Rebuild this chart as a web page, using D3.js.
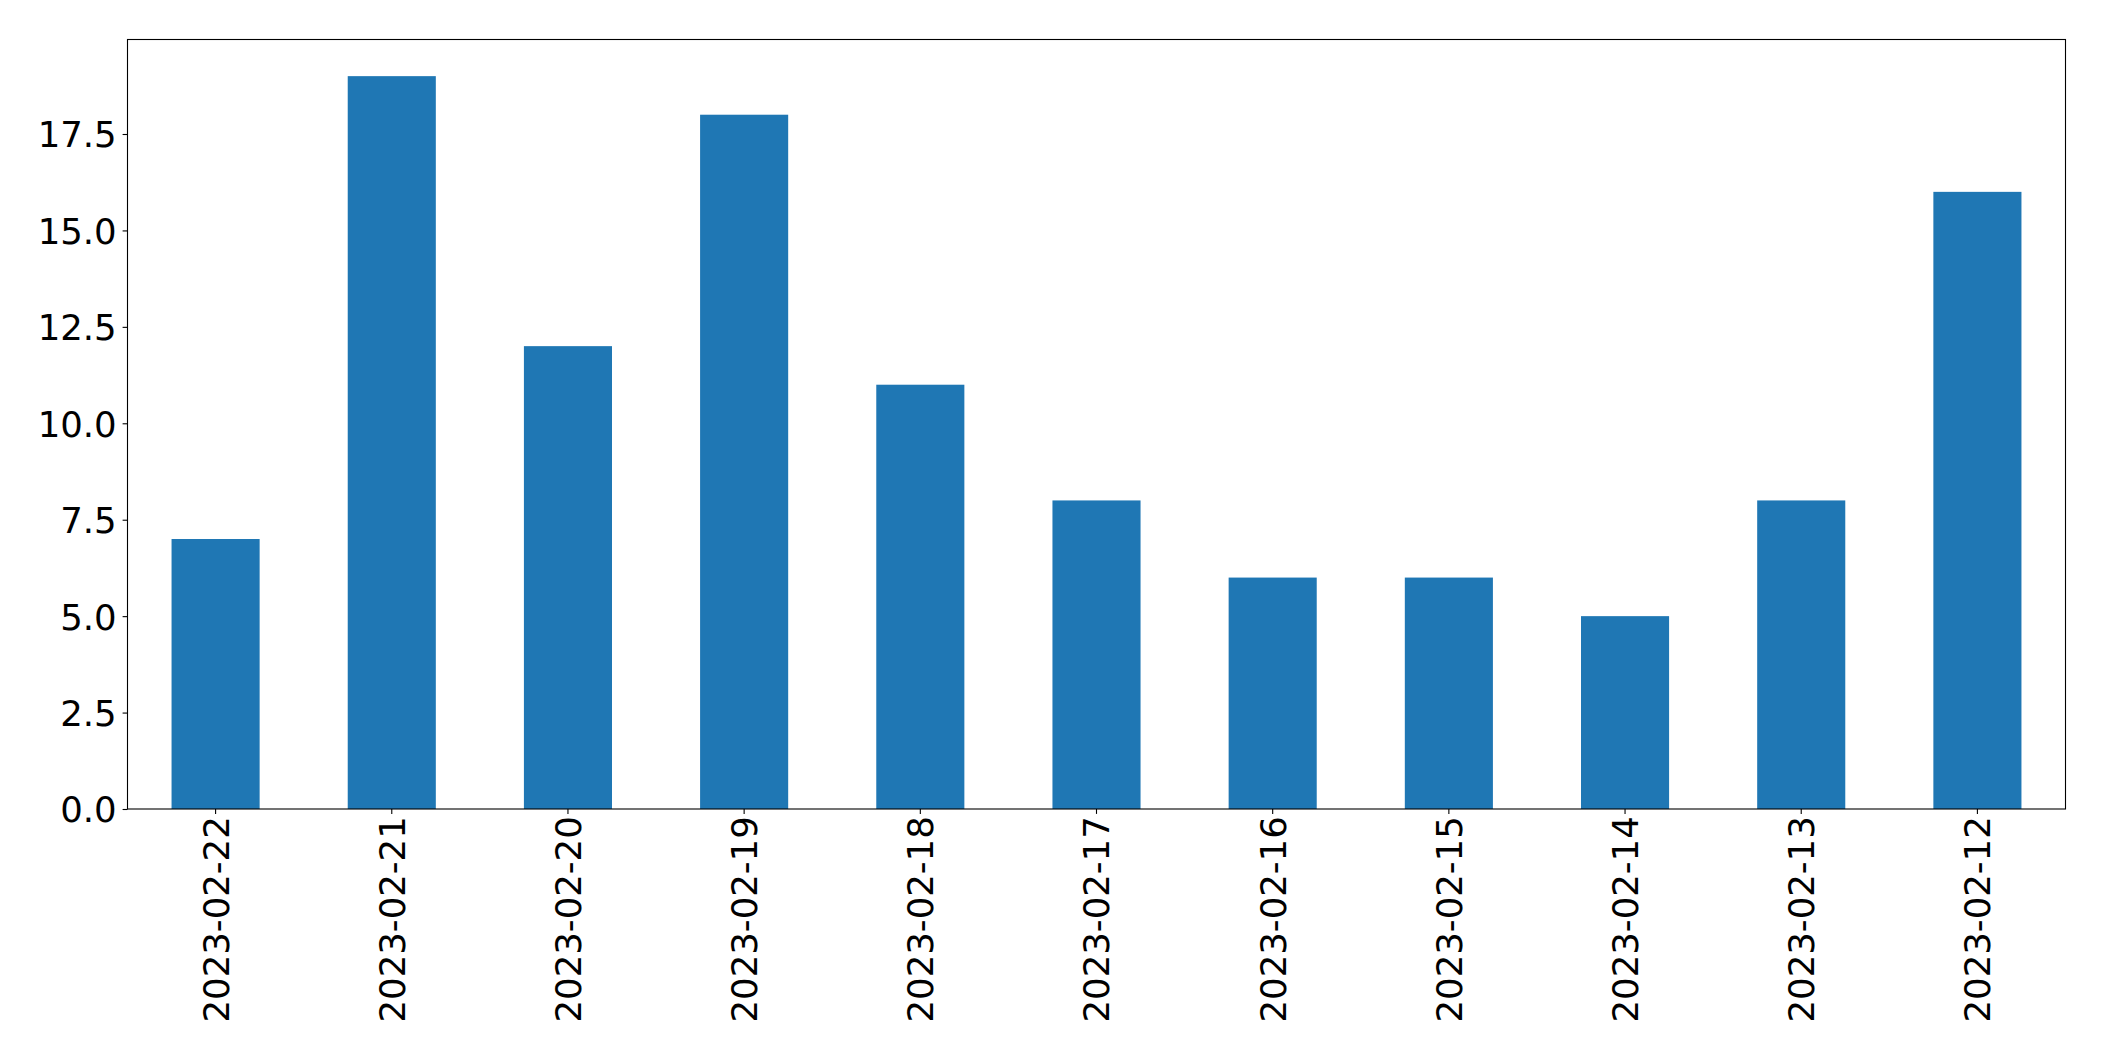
<!DOCTYPE html>
<html>
<head>
<meta charset="utf-8">
<script src="https://cdn.jsdelivr.net/npm/d3@7"></script>
<style>
  html, body { margin: 0; padding: 0; background: #fff; }
  svg { display: block; }
  text { font-family: "DejaVu Sans", sans-serif; }
</style>
</head>
<body>
<svg id="chart" width="2104" height="1061"></svg>
<script>
const categories = ["2023-02-22","2023-02-21","2023-02-20","2023-02-19","2023-02-18","2023-02-17","2023-02-16","2023-02-15","2023-02-14","2023-02-13","2023-02-12"];
const values = [7, 19, 12, 18, 11, 8, 6, 6, 5, 8, 16];
const yTicks = [0, 2.5, 5, 7.5, 10, 12.5, 15, 17.5];

const W = 2104, H = 1061;
const margin = {left: 127.5, right: W - 2065.5, top: 39.5, bottom: H - 809};
const iw = W - margin.left - margin.right;
const ih = H - margin.top - margin.bottom;
const fontSize = 35.5;
const tickLen = 4.9, pad = 4.9;

const svg = d3.select("#chart");
const g = svg.append("g").attr("transform", `translate(${margin.left},${margin.top})`);

const x = d3.scaleBand().domain(categories).range([0, iw]).paddingInner(0.5).paddingOuter(0.25);
const yMax = d3.max(values) * 1.05;
const y = d3.scaleLinear().domain([0, yMax]).range([ih, 0]);

g.selectAll("rect.bar").data(values).join("rect")
  .attr("class", "bar")
  .attr("x", (d, i) => x(categories[i]))
  .attr("width", x.bandwidth())
  .attr("y", d => y(d))
  .attr("height", d => y(0) - y(d))
  .attr("fill", "#1f77b4");

// Y axis
const yAxis = g.append("g").call(d3.axisLeft(y).tickValues(yTicks).tickFormat(d3.format(".1f")).tickSize(tickLen).tickPadding(pad));
yAxis.select(".domain").remove();
yAxis.selectAll(".tick line").attr("stroke", "#000").attr("stroke-width", 1.1);
yAxis.selectAll(".tick text")
  .attr("font-size", fontSize)
  .attr("font-family", "DejaVu Sans")
  .attr("fill", "#000")
  .attr("dy", null)
  .attr("x", -(tickLen + pad + 1))
  .attr("y", fontSize * 0.3645);

// X axis
const xAxis = g.append("g").attr("transform", `translate(0,${ih})`)
  .call(d3.axisBottom(x).tickSize(tickLen).tickPadding(pad));
xAxis.select(".domain").remove();
xAxis.selectAll(".tick line").attr("stroke", "#000").attr("stroke-width", 1.1);
xAxis.selectAll(".tick text")
  .attr("font-size", fontSize)
  .attr("font-family", "DejaVu Sans")
  .attr("fill", "#000")
  .attr("dy", null)
  .attr("text-anchor", "end")
  .attr("transform", `translate(${fontSize * 0.3645}, ${826 - 809 - tickLen - pad}) rotate(-90)`)
  .attr("x", 0)
  .attr("y", 0);

// Frame (spines)
g.append("rect")
  .attr("x", 0).attr("y", 0).attr("width", iw).attr("height", ih)
  .attr("fill", "none").attr("stroke", "#000").attr("stroke-width", 1.1);
</script>
</body>
</html>
